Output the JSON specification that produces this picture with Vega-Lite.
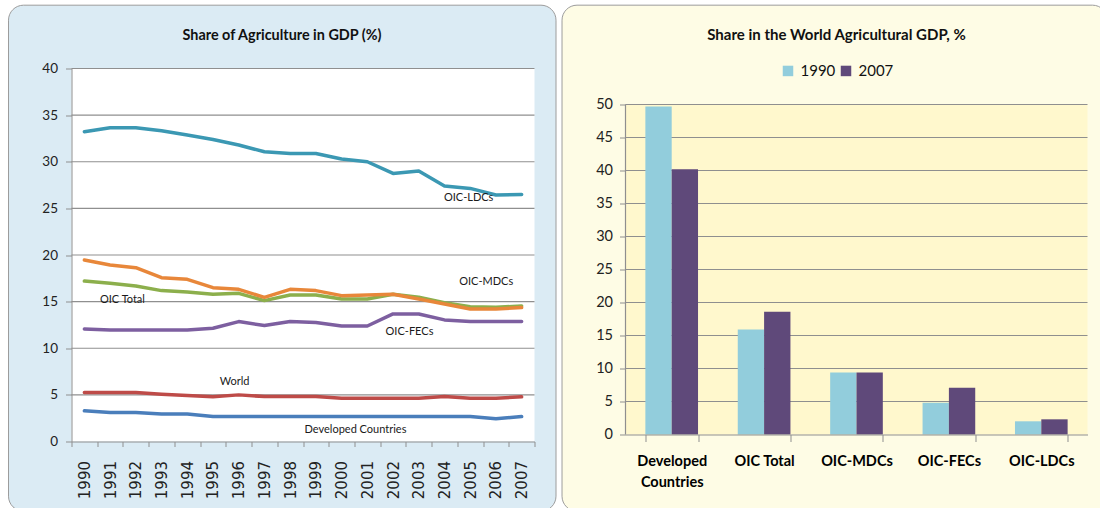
{
  "$schema": "https://vega.github.io/schema/vega-lite/v6.json",
  "padding": {"left": 7.5, "top": 4.5, "right": -8.5, "bottom": -3.5},
  "background": "white",
  "columns": 2,
  "align": "none",
  "spacing": 4,
  "resolve": {"scale": {"color": "independent", "x": "independent", "y": "independent"}, "legend": {"color": "independent"}},
  "datasets": {
    "shares": [
      {"year": 1990, "series": "OIC-LDCs", "value": 33.21}, {"year": 1991, "series": "OIC-LDCs", "value": 33.64}, {"year": 1992, "series": "OIC-LDCs", "value": 33.64}, {"year": 1993, "series": "OIC-LDCs", "value": 33.32}, {"year": 1994, "series": "OIC-LDCs", "value": 32.86}, {"year": 1995, "series": "OIC-LDCs", "value": 32.39}, {"year": 1996, "series": "OIC-LDCs", "value": 31.79}, {"year": 1997, "series": "OIC-LDCs", "value": 31.07}, {"year": 1998, "series": "OIC-LDCs", "value": 30.89}, {"year": 1999, "series": "OIC-LDCs", "value": 30.89}, {"year": 2000, "series": "OIC-LDCs", "value": 30.29}, {"year": 2001, "series": "OIC-LDCs", "value": 30.0}, {"year": 2002, "series": "OIC-LDCs", "value": 28.75}, {"year": 2003, "series": "OIC-LDCs", "value": 29.0}, {"year": 2004, "series": "OIC-LDCs", "value": 27.39}, {"year": 2005, "series": "OIC-LDCs", "value": 27.14}, {"year": 2006, "series": "OIC-LDCs", "value": 26.43}, {"year": 2007, "series": "OIC-LDCs", "value": 26.5},
      {"year": 1990, "series": "OIC Total", "value": 17.21}, {"year": 1991, "series": "OIC Total", "value": 16.96}, {"year": 1992, "series": "OIC Total", "value": 16.68}, {"year": 1993, "series": "OIC Total", "value": 16.18}, {"year": 1994, "series": "OIC Total", "value": 16.04}, {"year": 1995, "series": "OIC Total", "value": 15.79}, {"year": 1996, "series": "OIC Total", "value": 15.89}, {"year": 1997, "series": "OIC Total", "value": 15.11}, {"year": 1998, "series": "OIC Total", "value": 15.71}, {"year": 1999, "series": "OIC Total", "value": 15.71}, {"year": 2000, "series": "OIC Total", "value": 15.29}, {"year": 2001, "series": "OIC Total", "value": 15.29}, {"year": 2002, "series": "OIC Total", "value": 15.79}, {"year": 2003, "series": "OIC Total", "value": 15.46}, {"year": 2004, "series": "OIC Total", "value": 14.89}, {"year": 2005, "series": "OIC Total", "value": 14.46}, {"year": 2006, "series": "OIC Total", "value": 14.39}, {"year": 2007, "series": "OIC Total", "value": 14.54},
      {"year": 1990, "series": "OIC-MDCs", "value": 19.46}, {"year": 1991, "series": "OIC-MDCs", "value": 18.93}, {"year": 1992, "series": "OIC-MDCs", "value": 18.64}, {"year": 1993, "series": "OIC-MDCs", "value": 17.57}, {"year": 1994, "series": "OIC-MDCs", "value": 17.39}, {"year": 1995, "series": "OIC-MDCs", "value": 16.5}, {"year": 1996, "series": "OIC-MDCs", "value": 16.32}, {"year": 1997, "series": "OIC-MDCs", "value": 15.46}, {"year": 1998, "series": "OIC-MDCs", "value": 16.32}, {"year": 1999, "series": "OIC-MDCs", "value": 16.18}, {"year": 2000, "series": "OIC-MDCs", "value": 15.64}, {"year": 2001, "series": "OIC-MDCs", "value": 15.71}, {"year": 2002, "series": "OIC-MDCs", "value": 15.79}, {"year": 2003, "series": "OIC-MDCs", "value": 15.29}, {"year": 2004, "series": "OIC-MDCs", "value": 14.75}, {"year": 2005, "series": "OIC-MDCs", "value": 14.21}, {"year": 2006, "series": "OIC-MDCs", "value": 14.21}, {"year": 2007, "series": "OIC-MDCs", "value": 14.36},
      {"year": 1990, "series": "OIC-FECs", "value": 12.07}, {"year": 1991, "series": "OIC-FECs", "value": 11.96}, {"year": 1992, "series": "OIC-FECs", "value": 11.96}, {"year": 1993, "series": "OIC-FECs", "value": 11.96}, {"year": 1994, "series": "OIC-FECs", "value": 11.96}, {"year": 1995, "series": "OIC-FECs", "value": 12.14}, {"year": 1996, "series": "OIC-FECs", "value": 12.86}, {"year": 1997, "series": "OIC-FECs", "value": 12.43}, {"year": 1998, "series": "OIC-FECs", "value": 12.86}, {"year": 1999, "series": "OIC-FECs", "value": 12.75}, {"year": 2000, "series": "OIC-FECs", "value": 12.39}, {"year": 2001, "series": "OIC-FECs", "value": 12.39}, {"year": 2002, "series": "OIC-FECs", "value": 13.68}, {"year": 2003, "series": "OIC-FECs", "value": 13.68}, {"year": 2004, "series": "OIC-FECs", "value": 13.04}, {"year": 2005, "series": "OIC-FECs", "value": 12.86}, {"year": 2006, "series": "OIC-FECs", "value": 12.86}, {"year": 2007, "series": "OIC-FECs", "value": 12.86},
      {"year": 1990, "series": "World", "value": 5.25}, {"year": 1991, "series": "World", "value": 5.25}, {"year": 1992, "series": "World", "value": 5.25}, {"year": 1993, "series": "World", "value": 5.07}, {"year": 1994, "series": "World", "value": 4.93}, {"year": 1995, "series": "World", "value": 4.79}, {"year": 1996, "series": "World", "value": 5.0}, {"year": 1997, "series": "World", "value": 4.82}, {"year": 1998, "series": "World", "value": 4.82}, {"year": 1999, "series": "World", "value": 4.82}, {"year": 2000, "series": "World", "value": 4.64}, {"year": 2001, "series": "World", "value": 4.64}, {"year": 2002, "series": "World", "value": 4.64}, {"year": 2003, "series": "World", "value": 4.64}, {"year": 2004, "series": "World", "value": 4.82}, {"year": 2005, "series": "World", "value": 4.64}, {"year": 2006, "series": "World", "value": 4.64}, {"year": 2007, "series": "World", "value": 4.79},
      {"year": 1990, "series": "Developed Countries", "value": 3.29}, {"year": 1991, "series": "Developed Countries", "value": 3.11}, {"year": 1992, "series": "Developed Countries", "value": 3.11}, {"year": 1993, "series": "Developed Countries", "value": 2.96}, {"year": 1994, "series": "Developed Countries", "value": 2.96}, {"year": 1995, "series": "Developed Countries", "value": 2.68}, {"year": 1996, "series": "Developed Countries", "value": 2.68}, {"year": 1997, "series": "Developed Countries", "value": 2.68}, {"year": 1998, "series": "Developed Countries", "value": 2.68}, {"year": 1999, "series": "Developed Countries", "value": 2.68}, {"year": 2000, "series": "Developed Countries", "value": 2.68}, {"year": 2001, "series": "Developed Countries", "value": 2.68}, {"year": 2002, "series": "Developed Countries", "value": 2.68}, {"year": 2003, "series": "Developed Countries", "value": 2.68}, {"year": 2004, "series": "Developed Countries", "value": 2.68}, {"year": 2005, "series": "Developed Countries", "value": 2.68}, {"year": 2006, "series": "Developed Countries", "value": 2.43}, {"year": 2007, "series": "Developed Countries", "value": 2.68}
    ],
    "lineLabels": [
      {"label": "OIC-LDCs", "xpos": 2004.94, "ypos": 26.08},
      {"label": "OIC-MDCs", "xpos": 2005.62, "ypos": 17.06},
      {"label": "OIC Total", "xpos": 1991.48, "ypos": 15.13},
      {"label": "OIC-FECs", "xpos": 2002.64, "ypos": 11.7},
      {"label": "World", "xpos": 1995.84, "ypos": 6.36},
      {"label": "Developed Countries", "xpos": 2000.54, "ypos": 1.18}
    ],
    "worldShare": [
      {"group": "Developed Countries", "year": "1990", "value": 49.7},
      {"group": "Developed Countries", "year": "2007", "value": 40.2},
      {"group": "OIC Total", "year": "1990", "value": 15.9},
      {"group": "OIC Total", "year": "2007", "value": 18.6},
      {"group": "OIC-MDCs", "year": "1990", "value": 9.4},
      {"group": "OIC-MDCs", "year": "2007", "value": 9.4},
      {"group": "OIC-FECs", "year": "1990", "value": 4.8},
      {"group": "OIC-FECs", "year": "2007", "value": 7.1},
      {"group": "OIC-LDCs", "year": "1990", "value": 2.0},
      {"group": "OIC-LDCs", "year": "2007", "value": 2.3}
    ],
    "gridLeft": [{"v": 5}, {"v": 10}, {"v": 15}, {"v": 20}, {"v": 25}, {"v": 30}, {"v": 35}, {"v": 40}],
    "gridRight": [{"v": 5}, {"v": 10}, {"v": 15}, {"v": 20}, {"v": 25}, {"v": 30}, {"v": 35}, {"v": 40}, {"v": 45}, {"v": 50}],
    "one": [{"panel": 1}]
  },
  "concat": [
    {
      "width": 463,
      "height": 373,
      "title": {"text": "Share of Agriculture in GDP (%)", "font": "Lato", "fontSize": 14.4, "fontWeight": "bold", "color": "#111111", "baseline": "bottom", "offset": -53, "dx": -21},
      "resolve": {"scale": {"x": "independent"}},
      "layer": [
        {
          "data": {"name": "one"},
          "mark": {"type": "rect", "fill": "#DBEBF4", "stroke": "#9c9c9c", "strokeWidth": 1, "cornerRadius": 15},
          "encoding": {
            "x": {"datum": 1987.051, "type": "quantitative", "scale": {"domain": [1989.5, 2007.5], "nice": false, "zero": false}, "axis": null},
            "x2": {"datum": 2008.336},
            "y": {"datum": 46.79, "type": "quantitative", "scale": {"domain": [0, 40], "nice": false, "zero": false},
              "axis": {"title": null, "values": [0, 5, 10, 15, 20, 25, 30, 35, 40], "grid": false, "tickSize": 6, "labelPadding": 8, "labelFont": "Lato", "labelFontSize": 13.5, "labelColor": "#222222", "domainColor": "#8f8f8f", "tickColor": "#8f8f8f", "zindex": 1}},
            "y2": {"datum": -7.47}
          }
        },
        {
          "data": {"name": "one"},
          "mark": {"type": "rect", "fill": "#ffffff"},
          "encoding": {
            "x": {"datum": 1989.5, "type": "quantitative", "scale": {"domain": [1989.5, 2007.5], "nice": false, "zero": false}, "axis": null},
            "x2": {"datum": 2007.5},
            "y": {"datum": 0, "type": "quantitative", "scale": {"domain": [0, 40], "nice": false, "zero": false},
              "axis": {"title": null, "values": [0, 5, 10, 15, 20, 25, 30, 35, 40], "grid": false, "tickSize": 6, "labelPadding": 8, "labelFont": "Lato", "labelFontSize": 13.5, "labelColor": "#222222", "domainColor": "#8f8f8f", "tickColor": "#8f8f8f", "zindex": 1}},
            "y2": {"datum": 40}
          }
        },
        {
          "data": {"name": "gridLeft"},
          "mark": {"type": "rule", "color": "#8f8f8f", "strokeWidth": 1.2},
          "encoding": {
            "y": {"field": "v", "type": "quantitative", "scale": {"domain": [0, 40], "nice": false, "zero": false},
              "axis": {"title": null, "values": [0, 5, 10, 15, 20, 25, 30, 35, 40], "grid": false, "tickSize": 6, "labelPadding": 8, "labelFont": "Lato", "labelFontSize": 13.5, "labelColor": "#222222", "domainColor": "#8f8f8f", "tickColor": "#8f8f8f", "zindex": 1}}
          }
        },
        {
          "data": {"name": "shares"},
          "mark": {"type": "line", "strokeWidth": 3.5, "strokeJoin": "round", "strokeCap": "round"},
          "encoding": {
            "x": {"field": "year", "type": "ordinal", "bandPosition": 0.5,
              "scale": {"type": "band", "paddingInner": 0, "paddingOuter": 0},
              "axis": {"title": null, "labelAngle": -90, "tickBand": "extent", "tickSize": 5, "labelPadding": 14, "labelFont": "DejaVu Sans", "labelFontSize": 15, "labelColor": "#222222", "domainColor": "#8f8f8f", "tickColor": "#8f8f8f", "grid": false, "zindex": 1}},
            "y": {"field": "value", "type": "quantitative",
              "scale": {"domain": [0, 40], "nice": false, "zero": false},
              "axis": {"title": null, "values": [0, 5, 10, 15, 20, 25, 30, 35, 40], "grid": false, "tickSize": 6, "labelPadding": 8, "labelFont": "Lato", "labelFontSize": 13.5, "labelColor": "#222222", "domainColor": "#8f8f8f", "tickColor": "#8f8f8f", "zindex": 1}},
            "color": {"field": "series", "type": "nominal", "legend": null,
              "scale": {"domain": ["Developed Countries", "World", "OIC-FECs", "OIC Total", "OIC-MDCs", "OIC-LDCs"], "range": ["#4A7EBB", "#BE4B48", "#7D5FA0", "#8CAF4C", "#E8873A", "#3B98B3"]}}
          }
        },
        {
          "data": {"name": "lineLabels"},
          "mark": {"type": "text", "font": "Lato", "fontSize": 11, "color": "#1a1a1a", "align": "center", "baseline": "middle"},
          "encoding": {
            "x": {"field": "xpos", "type": "quantitative", "scale": {"domain": [1989.5, 2007.5], "nice": false, "zero": false}, "axis": null},
            "y": {"field": "ypos", "type": "quantitative", "scale": {"domain": [0, 40], "nice": false, "zero": false},
              "axis": {"title": null, "values": [0, 5, 10, 15, 20, 25, 30, 35, 40], "grid": false, "tickSize": 6, "labelPadding": 8, "labelFont": "Lato", "labelFontSize": 13.5, "labelColor": "#222222", "domainColor": "#8f8f8f", "tickColor": "#8f8f8f", "zindex": 1}},
            "text": {"field": "label"}
          }
        }
      ]
    },
    {
      "width": 462,
      "height": 366,
      "title": {"text": "Share in the World Agricultural GDP, %", "font": "Lato", "fontSize": 15, "fontWeight": "bold", "color": "#111111", "baseline": "bottom", "offset": -53, "dx": -20},
      "resolve": {"scale": {"x": "independent"}},
      "layer": [
        {
          "data": {"name": "one"},
          "mark": {"type": "rect", "fill": "#FEFCE5", "stroke": "#9c9c9c", "strokeWidth": 1, "cornerRadius": 15},
          "encoding": {
            "x": {"datum": -0.1374, "type": "quantitative", "scale": {"domain": [0, 1], "nice": false, "zero": false}, "axis": null},
            "x2": {"datum": 1.0433},
            "y": {"datum": 65.05, "type": "quantitative", "scale": {"domain": [0, 55.4545], "nice": false, "zero": false},
              "axis": {"title": null, "values": [0, 5, 10, 15, 20, 25, 30, 35, 40, 45, 50], "domain": false, "grid": false, "tickSize": 6, "labelPadding": 7, "labelFont": "Lato", "labelFontSize": 14.5, "labelColor": "#222222", "tickColor": "#8f8f8f", "zindex": 1}},
            "y2": {"datum": -11.62}
          }
        },
        {
          "data": {"name": "one"},
          "mark": {"type": "rect", "fill": "#FFF8CD"},
          "encoding": {
            "x": {"datum": 0, "type": "quantitative", "scale": {"domain": [0, 1], "nice": false, "zero": false}, "axis": null},
            "x2": {"datum": 1},
            "y": {"datum": 0, "type": "quantitative", "scale": {"domain": [0, 55.4545], "nice": false, "zero": false},
              "axis": {"title": null, "values": [0, 5, 10, 15, 20, 25, 30, 35, 40, 45, 50], "domain": false, "grid": false, "tickSize": 6, "labelPadding": 7, "labelFont": "Lato", "labelFontSize": 14.5, "labelColor": "#222222", "tickColor": "#8f8f8f", "zindex": 1}},
            "y2": {"datum": 50}
          }
        },
        {
          "data": {"name": "gridRight"},
          "mark": {"type": "rule", "color": "#8f8f8f", "strokeWidth": 1.2},
          "encoding": {
            "y": {"field": "v", "type": "quantitative", "scale": {"domain": [0, 55.4545], "nice": false, "zero": false},
              "axis": {"title": null, "values": [0, 5, 10, 15, 20, 25, 30, 35, 40, 45, 50], "domain": false, "grid": false, "tickSize": 6, "labelPadding": 7, "labelFont": "Lato", "labelFontSize": 14.5, "labelColor": "#222222", "tickColor": "#8f8f8f", "zindex": 1}}
          }
        },
        {
          "data": {"name": "one"},
          "mark": {"type": "rule", "color": "#8f8f8f", "strokeWidth": 1.2},
          "encoding": {
            "x": {"datum": 0, "type": "quantitative", "scale": {"domain": [0, 1], "nice": false, "zero": false}, "axis": null},
            "y": {"datum": 0, "type": "quantitative", "scale": {"domain": [0, 55.4545], "nice": false, "zero": false},
              "axis": {"title": null, "values": [0, 5, 10, 15, 20, 25, 30, 35, 40, 45, 50], "domain": false, "grid": false, "tickSize": 6, "labelPadding": 7, "labelFont": "Lato", "labelFontSize": 14.5, "labelColor": "#222222", "tickColor": "#8f8f8f", "zindex": 1}},
            "y2": {"datum": 50}
          }
        },
        {
          "data": {"name": "worldShare"},
          "mark": {"type": "bar"},
          "encoding": {
            "x": {"field": "group", "type": "nominal", "sort": null,
              "scale": {"domain": ["Developed Countries", "OIC Total", "OIC-MDCs", "OIC-FECs", "OIC-LDCs"], "paddingInner": 0.43, "paddingOuter": 0.215},
              "axis": {"title": null, "labelAngle": 0, "tickBand": "extent", "tickSize": 7, "labelPadding": 13, "labelFont": "Lato", "labelFontSize": 14.5, "labelFontWeight": "bold", "labelColor": "#000000", "labelLineHeight": 21, "labelExpr": "datum.value == 'Developed Countries' ? ['Developed', 'Countries'] : datum.value", "domainColor": "#8f8f8f", "tickColor": "#8f8f8f", "grid": false, "zindex": 1}},
            "xOffset": {"field": "year", "type": "nominal", "scale": {"domain": ["1990", "2007"], "paddingInner": 0, "paddingOuter": 0}},
            "y": {"field": "value", "type": "quantitative",
              "scale": {"domain": [0, 55.4545], "nice": false, "zero": false},
              "axis": {"title": null, "values": [0, 5, 10, 15, 20, 25, 30, 35, 40, 45, 50], "domain": false, "grid": false, "tickSize": 6, "labelPadding": 7, "labelFont": "Lato", "labelFontSize": 14.5, "labelColor": "#222222", "tickColor": "#8f8f8f", "zindex": 1}},
            "color": {"field": "year", "type": "nominal",
              "scale": {"domain": ["1990", "2007"], "range": ["#92CDDC", "#5F497A"]},
              "legend": {"title": null, "orient": "none", "legendX": 155, "legendY": -5.3, "direction": "horizontal", "symbolType": "square", "symbolSize": 110, "symbolStrokeWidth": 0, "labelFont": "Lato", "labelFontSize": 15, "labelColor": "#111111", "columnPadding": 3, "labelOffset": 5, "padding": 0, "zindex": 1}}
          }
        }
      ]
    }
  ],
  "config": {
    "view": {"stroke": null},
    "axis": {"grid": false, "zindex": 1}
  }
}
